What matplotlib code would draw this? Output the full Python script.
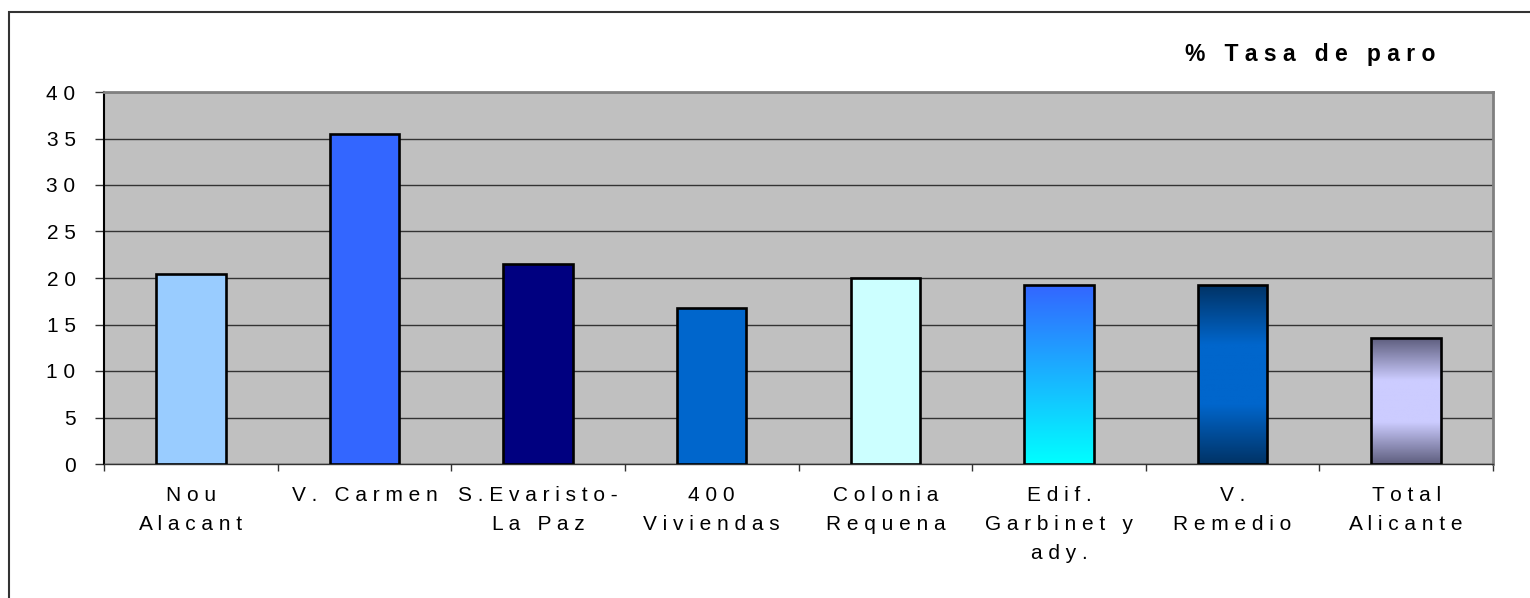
import matplotlib
matplotlib.use('Agg')
import matplotlib.pyplot as plt
import numpy as np
from matplotlib.colors import LinearSegmentedColormap
from matplotlib.patches import Rectangle

#Data
categories = ['Nou\nAlacant', 'V. Carmen', 'S.Evaristo-\nLa Paz', '400\nViviendas',
              'Colonia\nRequena', 'Edif.\nGarbinet y\nady.', 'V.\nRemedio', 'Total\nAlicante']
values = [20.4, 35.5, 21.5, 16.8, 20.0, 19.2, 19.2, 13.5]
yticks = [0, 5, 10, 15, 20, 25, 30, 35, 40]
title = '% Tasa de paro'

#fill for each bar: one colour = solid, list = vertical gradient (bottom -> top)
fills = ['#99CCFF', '#3366FF', '#000080', '#0066CC', '#CCFFFF',
         ['#00FFFF', '#3366FF'],
         ['#003366', '#0066CC', '#0066CC', '#003366'],
         ['#5E5E7E', '#CCCCFF', '#CCCCFF', '#5E5E7E']]

def spaced(s):
    #the reference draws its text letter-spaced
    return '\n'.join(' '.join(line) for line in s.split('\n'))

plt.rcParams['font.family'] = ['Liberation Sans', 'DejaVu Sans']

fig = plt.figure(figsize=(15.3, 5.98), dpi=100)
ax = fig.add_axes([104/1530, 1 - 464/598, (1493 - 104)/1530, (464 - 92)/598])
ax.set_facecolor('#C0C0C0')

x = np.arange(len(categories))
bw = 0.4
for i, (v, f) in enumerate(zip(values, fills)):
    if isinstance(f, str):
        ax.bar(x[i], v, width=bw, color=f, edgecolor='black', linewidth=1.9, zorder=3)
    else:
        bar = ax.bar(x[i], v, width=bw, facecolor='none', edgecolor='black', linewidth=1.9, zorder=4)[0]
        cmap = LinearSegmentedColormap.from_list('g%d' % i, f)
        grad = np.linspace(0, 1, 256).reshape(-1, 1)
        im = ax.imshow(grad, cmap=cmap, origin='lower', aspect='auto',
                       extent=[x[i] - bw/2, x[i] + bw/2, 0, v], zorder=3)
        im.set_clip_path(bar)

ax.set_xlim(-0.5, len(categories) - 0.5)
ax.set_ylim(0, 40)
ax.set_yticks(yticks)
ax.set_yticklabels([spaced(str(t)) for t in yticks], fontsize=15)
ax.yaxis.grid(True, color='#333333', linewidth=1)
ax.set_axisbelow(True)
ax.tick_params(axis='y', length=6.5, width=1, pad=14, color='#333333')

ax.set_xticks(x)
ax.set_xticklabels([spaced(c) for c in categories], fontsize=15, linespacing=1.65)
ax.set_xticks(np.arange(-0.5, len(categories)), minor=True)
ax.tick_params(axis='x', which='major', length=0, pad=16)
ax.tick_params(axis='x', which='minor', length=5, width=1, color='#333333')

ax.spines['left'].set_color('black')
ax.spines['left'].set_linewidth(1.5)
ax.spines['bottom'].set_color('#333333')
ax.spines['bottom'].set_linewidth(1)
ax.spines['top'].set_color('#808080')
ax.spines['top'].set_linewidth(2)
ax.spines['right'].set_color('#808080')
ax.spines['right'].set_linewidth(2)

fig.text(1435/1530, 1 - 55/598, spaced(title), ha='right', va='center',
         fontsize=16.5, fontweight='bold')

#outer chart border (right and bottom edges fall outside the image)
fig.patches.append(Rectangle((9/1530, -0.05), 1.1, 0.05 + 1 - 12/598, transform=fig.transFigure,
                             fill=False, edgecolor='#333333', linewidth=1.5))

fig.savefig('out.png', dpi=100)
